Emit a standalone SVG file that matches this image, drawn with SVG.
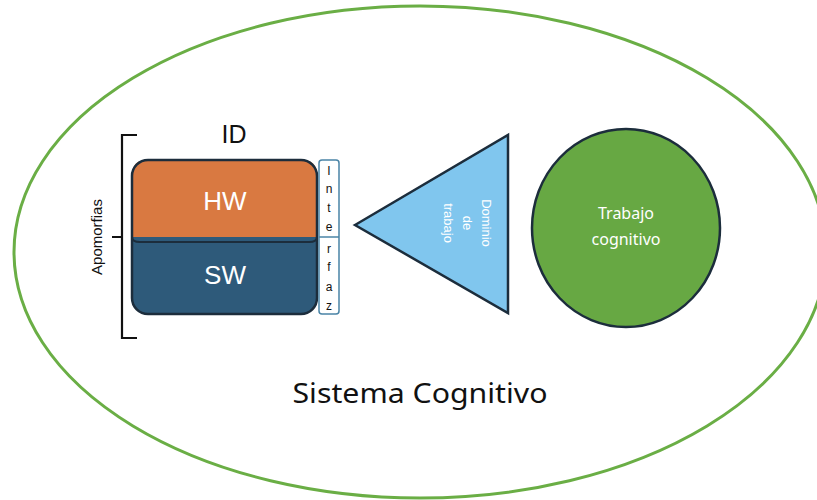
<svg xmlns="http://www.w3.org/2000/svg" width="817" height="500" viewBox="0 0 817 500">
  <style>
    .lbl { font-family: "Liberation Sans", Arial, sans-serif; }
    .wide { font-family: "Noto Sans", "Liberation Sans", Arial, sans-serif; }
    .white { fill: #ffffff; }
    .dark { fill: #111111; }
    .edge { stroke: #1c2d3c; stroke-width: 2.5; }
    .letter { font-family: "Liberation Sans", Arial, sans-serif; font-size: 12px; fill: #111111; text-anchor: middle; }
  </style>
  <rect x="0" y="0" width="817" height="500" fill="#ffffff"/>

  <!-- outer system boundary -->
  <g id="sistema">
    <ellipse cx="420" cy="252" rx="406" ry="246" fill="none" stroke="#6aae45" stroke-width="3"/>
    <text class="wide dark" x="420" y="403" font-size="27" text-anchor="middle" textLength="255" lengthAdjust="spacingAndGlyphs">Sistema Cognitivo</text>
  </g>

  <!-- brace for Apomorfias -->
  <g id="apomorfias">
    <path d="M137 135 H122 V338 H137 M122 237 H112" fill="none" stroke="#111111" stroke-width="2.2"/>
    <text class="lbl dark" x="0" y="0" font-size="15" text-anchor="middle" transform="translate(102 237) rotate(-90)">Apomorfias</text>
  </g>

  <!-- ID block: HW over SW -->
  <g id="id">
    <text class="lbl dark" x="234" y="143" font-size="25" text-anchor="middle">ID</text>
    <path d="M132 237 V175 Q132 160 147 160 H302 Q317 160 317 175 V237 Z" fill="#d97941"/>
    <path d="M132 237 V296 Q132 314 150 314 H299 Q317 314 317 296 V237 Z" fill="#2e5a7a"/>
    <rect x="132" y="160" width="185" height="154" rx="16" fill="none" class="edge"/>
    <path d="M132 237 Q132 242 140 242 H309 Q317 242 317 237" fill="none" stroke="#1c2d3c" stroke-width="2"/>
    <text class="lbl white" x="225" y="210" font-size="26" text-anchor="middle">HW</text>
    <text class="lbl white" x="225" y="284" font-size="26" text-anchor="middle">SW</text>
  </g>

  <!-- interface strip -->
  <g id="interfaz">
    <rect x="319" y="160" width="20" height="154" rx="3" fill="#ffffff" stroke="#4a84a6" stroke-width="1.5"/>
    <line x1="319" y1="237" x2="339" y2="237" stroke="#4a84a6" stroke-width="1.5"/>
    <text class="letter" x="329" y="175">I</text>
    <text class="letter" x="329" y="193">n</text>
    <text class="letter" x="329" y="212">t</text>
    <text class="letter" x="329" y="231">e</text>
    <text class="letter" x="329" y="253">r</text>
    <text class="letter" x="329" y="271">f</text>
    <text class="letter" x="329" y="291">a</text>
    <text class="letter" x="329" y="310">z</text>
  </g>

  <!-- work domain triangle -->
  <g id="dominio">
    <polygon points="355,225 508,135 508,313" fill="#80c6ee" class="edge" stroke-linejoin="miter"/>
    <g transform="translate(467 223) rotate(90)">
      <text class="lbl white" x="0" y="-15" font-size="13" text-anchor="middle">Dominio</text>
      <text class="lbl white" x="0" y="4" font-size="13" text-anchor="middle">de</text>
      <text class="lbl white" x="0" y="23" font-size="13" text-anchor="middle">trabajo</text>
    </g>
  </g>

  <!-- cognitive work -->
  <g id="trabajo">
    <ellipse cx="626" cy="228" rx="94" ry="99" fill="#67a843" class="edge"/>
    <text class="wide white" x="626" y="219" font-size="16" text-anchor="middle">Trabajo</text>
    <text class="wide white" x="626" y="245" font-size="16" text-anchor="middle">cognitivo</text>
  </g>
</svg>
